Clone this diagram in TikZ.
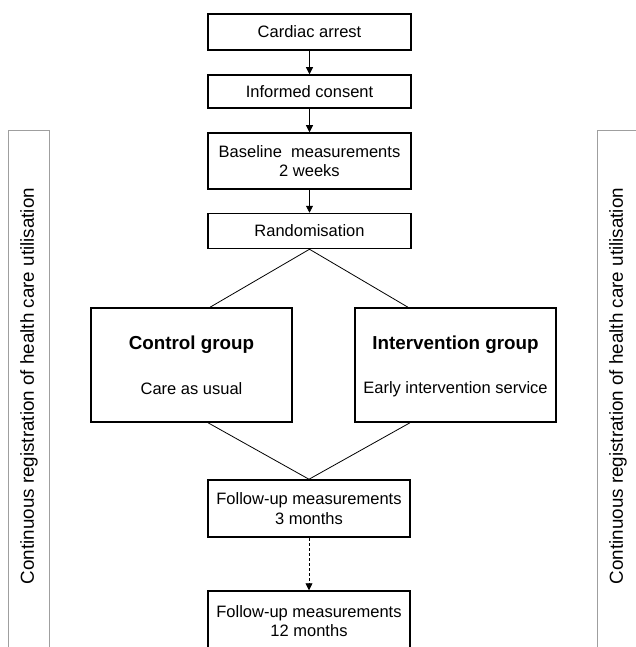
\documentclass[tikz,border=0pt]{standalone}
\usepackage{fontspec}
\setmainfont{Liberation Sans}
\usetikzlibrary{arrows.meta,calc}
\begin{document}
\begin{tikzpicture}[x=1pt,y=-1pt,
  box/.style={draw=black,line width=1.5pt,rectangle,align=center,inner sep=0pt,
    font=\fontsize{16.5}{19.5}\selectfont},
  conn/.style={draw=black,line width=0.8pt},
  arr/.style={conn,-{Triangle[width=7pt,length=7pt]}},
  sidebox/.style={draw=gray!75,line width=1pt},
  sidetext/.style={rotate=90,font=\fontsize{18.8}{22}\selectfont,inner sep=0pt}]
\useasboundingbox (0,0) rectangle (635,647);
\fill[white] (0,0) rectangle (635,647);
% side boxes
\draw[sidebox] (8,660) -- (8,131) -- (49,131) -- (49,660);
\draw[sidebox] (597,660) -- (597,131) -- (638,131) -- (638,660);
\node[sidetext] (lt) at (29,386) {Continuous registration of health care utilisation};
\node[sidetext] (rt) at (618,386) {Continuous registration of health care utilisation};
% main column
\node[box,minimum width=203pt,minimum height=36pt] (ca) at (309.5,32) {Cardiac arrest};
\node[box,minimum width=203pt,minimum height=33pt] (ic) at (309.5,91.5) {Informed consent};
\node[box,minimum width=203pt,minimum height=56pt] (bm) at (309.5,161) {Baseline\ \ measurements\\2 weeks};
\node[box,minimum width=203pt,minimum height=35pt] (rd) at (309.5,231) {Randomisation};
\node[box,minimum width=201pt,minimum height=114pt] (cg) at (191.5,365) {};
\node[box,minimum width=201pt,minimum height=114pt] (ig) at (455.5,365) {};
\node[font=\fontsize{18.8}{22}\selectfont\bfseries] (cgt) at (191.5,345) {Control group};
\node[font=\fontsize{16.5}{19.5}\selectfont] (cgs) at (191.5,389) {Care as usual};
\node[font=\fontsize{18.8}{22}\selectfont\bfseries] (igt) at (455.5,345) {Intervention group};
\node[font=\fontsize{16.5}{19.5}\selectfont] (igs) at (455.5,389) {Early intervention service};
\node[box,minimum width=202pt,minimum height=57pt] (f3) at (309,508.5) {Follow-up measurements\\3 months};
\node[box,minimum width=202pt,minimum height=60pt] (f12) at (309,621) {Follow-up measurements\\12 months};
% junction points
\coordinate (cgtop) at ([xshift=18.5pt]cg.north);
\coordinate (igtop) at ([xshift=-47.5pt]ig.north);
\coordinate (cgbot) at ([xshift=16.5pt]cg.south);
\coordinate (igbot) at ([xshift=-45.5pt]ig.south);
% connectors
\draw[arr] (ca.south) -- (ic.north);
\draw[arr] (ic.south) -- (bm.north);
\draw[arr] (bm.south) -- (rd.north);
\draw[conn] (cgtop) -- (rd.south) -- (igtop);
\draw[conn] (cgbot) -- (f3.north) -- (igbot);
\draw[arr,dash pattern=on 3pt off 2pt] (f3.south) -- (f12.north);
\end{tikzpicture}
\end{document}
